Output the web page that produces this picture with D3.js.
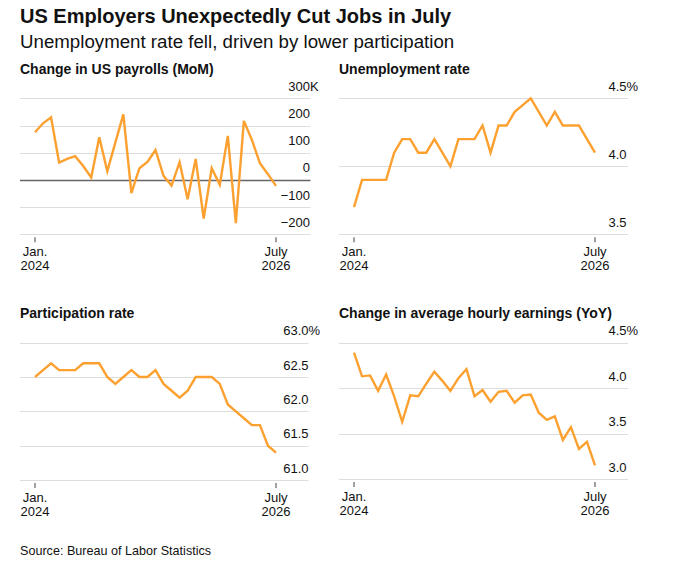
<!DOCTYPE html>
<meta charset="utf-8">
<script src="https://d3js.org/d3.v7.min.js"></script>
<style>
  body { margin: 0; background: #fff; }
  text { font-family: "Liberation Sans", Arial, sans-serif; fill: #111; }
</style>
<div id="chart"></div>
<script>

// months Jan 2024 .. July 2026 (31 points)
var months = d3.range(31);
var xTicks = [0, 30];
var xTickTop = ["Jan.", "July"];
var xTickBottom = ["2024", "2026"];

// change in payrolls, thousands
var payrolls = [175, 208, 230, 64, 77, 87, 51, 9, 157, 32, 137, 241, -49, 43, 66, 110,
                15, -21, 65, -71, 77, -142, 43, -18, 162, -159, 217, 147, 61, 21, -22];
var payrollTicks = [-200, -100, 0, 100, 200, 300];

// unemployment rate, %
var unemployment = [3.7, 3.9, 3.9, 3.9, 3.9, 4.1, 4.2, 4.2, 4.1, 4.1, 4.2, 4.1, 4.0, 4.2, 4.2, 4.2,
                    4.3, 4.1, 4.3, 4.3, 4.4, 4.45, 4.5, 4.4, 4.3, 4.4, 4.3, 4.3, 4.3, 4.2, 4.1];
var unemploymentTicks = [3.5, 4.0, 4.5];

// participation rate, %
var participation = [62.5, 62.6, 62.7, 62.6, 62.6, 62.6, 62.7, 62.7, 62.7, 62.5, 62.4, 62.5, 62.6, 62.5, 62.5, 62.6,
                     62.4, 62.3, 62.2, 62.3, 62.5, 62.5, 62.5, 62.4, 62.1, 62.0, 61.9, 61.8, 61.8, 61.5, 61.4];
var participationTicks = [61.0, 61.5, 62.0, 62.5, 63.0];

// average hourly earnings, YoY %
var earnings = [4.39, 4.13, 4.14, 3.97, 4.15, 3.91, 3.63, 3.92, 3.91, 4.05, 4.18, 4.08, 3.97, 4.11, 4.21, 3.91,
                3.98, 3.85, 3.96, 3.97, 3.84, 3.92, 3.93, 3.73, 3.65, 3.69, 3.43, 3.57, 3.33, 3.41, 3.15];
var earningsTicks = [3.0, 3.5, 4.0, 4.5];

var W = 699, H = 586;
var lineColor = "#fca030";

var svg = d3.select("#chart").append("svg")
    .attr("width", W)
    .attr("height", H);

svg.append("text")
    .attr("x", 20).attr("y", 23)
    .style("font-size", "20px").style("font-weight", "bold")
    .text("US Employers Unexpectedly Cut Jobs in July");

svg.append("text")
    .attr("x", 20).attr("y", 47.5)
    .style("font-size", "18.7px")
    .text("Unemployment rate fell, driven by lower participation");

svg.append("text")
    .attr("x", 20).attr("y", 555)
    .style("font-size", "12.6px")
    .text("Source: Bureau of Labor Statistics");

var panels = [
  {title: "Change in US payrolls (MoM)", data: payrolls, ticks: payrollTicks, fmt: d3.format("d"), suffix: "K",
   left: 20, right: 310.5, top: 98.3, bottom: 234.3, labelX: 310, zero: true},
  {title: "Unemployment rate", data: unemployment, ticks: unemploymentTicks, fmt: d3.format(".1f"), suffix: "%",
   left: 339, right: 628, top: 98.3, bottom: 234.3, labelX: 626.5},
  {title: "Participation rate", data: participation, ticks: participationTicks, fmt: d3.format(".1f"), suffix: "%",
   left: 20, right: 308.5, top: 342.7, bottom: 480, labelX: 308.5},
  {title: "Change in average hourly earnings (YoY)", data: earnings, ticks: earningsTicks, fmt: d3.format(".1f"), suffix: "%",
   left: 339, right: 628, top: 342.7, bottom: 479, labelX: 626.5}
];

panels.forEach(function(p) {
  var g = svg.append("g");

  var x = d3.scaleLinear()
    .domain([0, 30])
    .range([p.left + 15, p.left + 256]);

  var y = d3.scaleLinear()
    .domain(d3.extent(p.ticks))
    .range([p.bottom, p.top]);

  g.append("text")
    .attr("x", p.left).attr("y", p.top - 24.7)
    .style("font-size", "14px").style("font-weight", "bold")
    .text(p.title);

  // gridlines
  g.selectAll(".grid")
    .data(p.ticks)
    .enter().append("line")
      .attr("x1", p.left).attr("x2", p.right)
      .attr("y1", function(d) { return Math.round(y(d)) + 0.5; })
      .attr("y2", function(d) { return Math.round(y(d)) + 0.5; })
      .attr("stroke", function(d) { return (p.zero && d === 0) ? "#666" : "#ddd"; })
      .attr("stroke-width", function(d) { return (p.zero && d === 0) ? 1.5 : 1; });

  // y labels, number right aligned, unit hanging
  g.selectAll(".ylab")
    .data(p.ticks)
    .enter().append("text")
      .attr("x", p.labelX)
      .attr("y", function(d) { return y(d) - 7.5; })
      .attr("text-anchor", "end")
      .style("font-size", "13px")
      .text(function(d) { return p.fmt(d); });

  var topTick = p.ticks[p.ticks.length - 1];
  g.append("text")
    .attr("x", p.labelX)
    .attr("y", y(topTick) - 7.5)
    .style("font-size", "13px")
    .text(p.suffix);

  // x ticks
  g.selectAll(".xtick")
    .data(xTicks)
    .enter().append("line")
      .attr("x1", function(d) { return x(d); })
      .attr("x2", function(d) { return x(d); })
      .attr("y1", p.bottom + 3).attr("y2", p.bottom + 8)
      .attr("stroke", "#444");

  g.selectAll(".xlab1")
    .data(xTicks)
    .enter().append("text")
      .attr("x", function(d) { return x(d); })
      .attr("y", p.bottom + 22)
      .attr("text-anchor", "middle")
      .style("font-size", "13px")
      .text(function(d, i) { return xTickTop[i]; });

  g.selectAll(".xlab2")
    .data(xTicks)
    .enter().append("text")
      .attr("x", function(d) { return x(d); })
      .attr("y", p.bottom + 36)
      .attr("text-anchor", "middle")
      .style("font-size", "13px")
      .text(function(d, i) { return xTickBottom[i]; });

  var line = d3.line()
    .x(function(d, i) { return x(months[i]); })
    .y(function(d) { return y(d); });

  g.append("path")
    .datum(p.data)
    .attr("fill", "none")
    .attr("stroke", lineColor)
    .attr("stroke-width", 2.4)
    .attr("d", line);
});

</script>
